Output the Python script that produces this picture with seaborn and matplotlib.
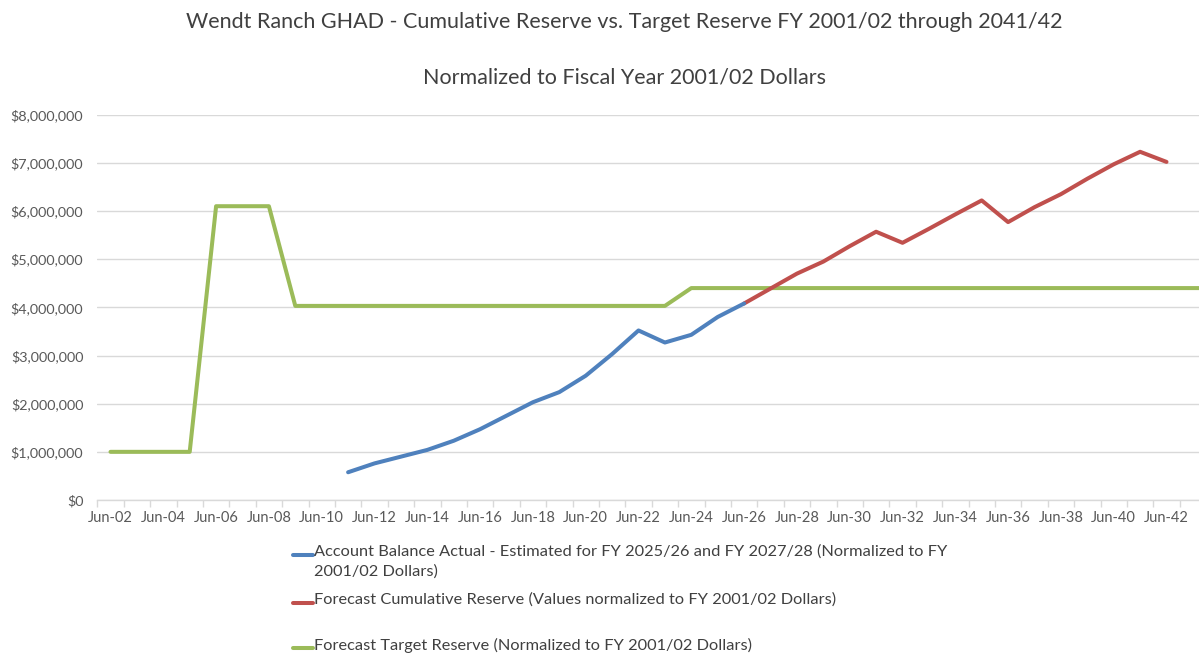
import numpy as np
import pandas as pd
import matplotlib
matplotlib.use("Agg")
import matplotlib.pyplot as plt
from matplotlib.lines import Line2D
from matplotlib.ticker import FuncFormatter
import seaborn as sns

# fiscal years (June of each year), 2002 .. 2044
years = list(range(2002, 2045))

# Account balance actual / estimated, 2011 .. 2026
actual_years = list(range(2011, 2027))
actual_vals = [576000, 760000, 900000, 1040000, 1230000, 1470000, 1750000, 2030000,
               2240000, 2580000, 3030000, 3520000, 3270000, 3430000, 3800000, 4080000]

# Forecast cumulative reserve, 2026 .. 2042
forecast_years = list(range(2026, 2043))
forecast_vals = [4080000, 4390000, 4700000, 4950000, 5270000, 5570000, 5340000, 5630000,
                 5930000, 6220000, 5770000, 6080000, 6350000, 6670000, 6970000, 7230000,
                 7020000]

# Forecast target reserve, 2002 .. 2044
target_years = list(range(2002, 2045))
target_vals = ([1000000] * 4 + [6100000] * 3 + [4030000] * 15 + [4400000] * 21)

tick_labels = ["Jun-%02d" % (y % 100) for y in range(2002, 2043, 2)]

BLUE = "#4F81BD"
RED = "#C0504D"
GREEN = "#9BBB59"
TXT = "#595959"
TITLE = "#404040"

sns.set_theme(style="white")
plt.rcParams["font.family"] = ["Lato", "DejaVu Sans"]

fig = plt.figure(figsize=(11.99, 6.58), dpi=100)
ax = fig.add_axes([97.3 / 1199, 1 - 500 / 658, 1 - 97.3 / 1199, (500 - 114.7) / 658])

idx = lambda ys: [y - 2002 for y in ys]

sns.lineplot(x=idx(target_years), y=target_vals, ax=ax, color=GREEN, linewidth=2.9)
sns.lineplot(x=idx(forecast_years), y=forecast_vals, ax=ax, color=RED, linewidth=2.9)
sns.lineplot(x=idx(actual_years), y=actual_vals, ax=ax, color=BLUE, linewidth=2.9)

ax.set_yticks(np.arange(0, 8000001, 1000000))
ax.yaxis.set_major_formatter(FuncFormatter(lambda v, p: "${:,.0f}".format(v)))
ax.grid(axis="y", color="#D9D9D9", linewidth=1)
ax.set_axisbelow(True)
for s in ["top", "right", "left"]:
    ax.spines[s].set_visible(False)
ax.spines["bottom"].set_color("#D9D9D9")
ax.spines["bottom"].set_linewidth(1)

ax.set_xticks(range(0, 41, 2))
ax.set_xticklabels(tick_labels)
ax.set_xticks(np.arange(-0.5, 43, 1), minor=True)
ax.tick_params(axis="x", which="major", length=0, pad=8, labelsize=10.5, labelcolor=TXT)
ax.tick_params(axis="x", which="minor", length=5, width=1, color="#D9D9D9", bottom=True)
ax.tick_params(axis="y", length=0, pad=10, labelsize=10.4, labelcolor=TXT)
ax.set_xlabel("")
ax.set_ylabel("")

# limits last, so the tick calls cannot widen them
ax.set_ylim(0, 8000000)
ax.set_xlim(-0.5, (1199 - 97.3) / 26.4 - 0.5)

fig.text(624 / 1199, 1 - 22 / 658,
         "Wendt Ranch GHAD - Cumulative Reserve vs. Target Reserve FY 2001/02 through 2041/42",
         ha="center", va="center", fontsize=15.5, color=TITLE)
fig.text(624 / 1199, 1 - 78 / 658, "Normalized to Fiscal Year 2001/02 Dollars",
         ha="center", va="center", fontsize=15.5, color=TITLE)

# legend drawn below the plot
legend_items = [
    (555, BLUE, "Account Balance Actual - Estimated for FY 2025/26 and FY 2027/28 (Normalized to FY\n2001/02 Dollars)"),
    (603, RED, "Forecast Cumulative Reserve (Values normalized to FY 2001/02 Dollars)"),
    (648, GREEN, "Forecast Target Reserve (Normalized to FY 2001/02 Dollars)"),
]
for ypx, col, lab in legend_items:
    yf = 1 - ypx / 658
    fig.add_artist(Line2D([293 / 1199, 313 / 1199], [yf, yf], color=col, linewidth=2.9,
                          transform=fig.transFigure))
    fig.text(314 / 1199, yf + 0.016, lab, ha="left", va="top", fontsize=11.8, color=TITLE,
             linespacing=1.45)

fig.savefig("out.png", dpi=100)
